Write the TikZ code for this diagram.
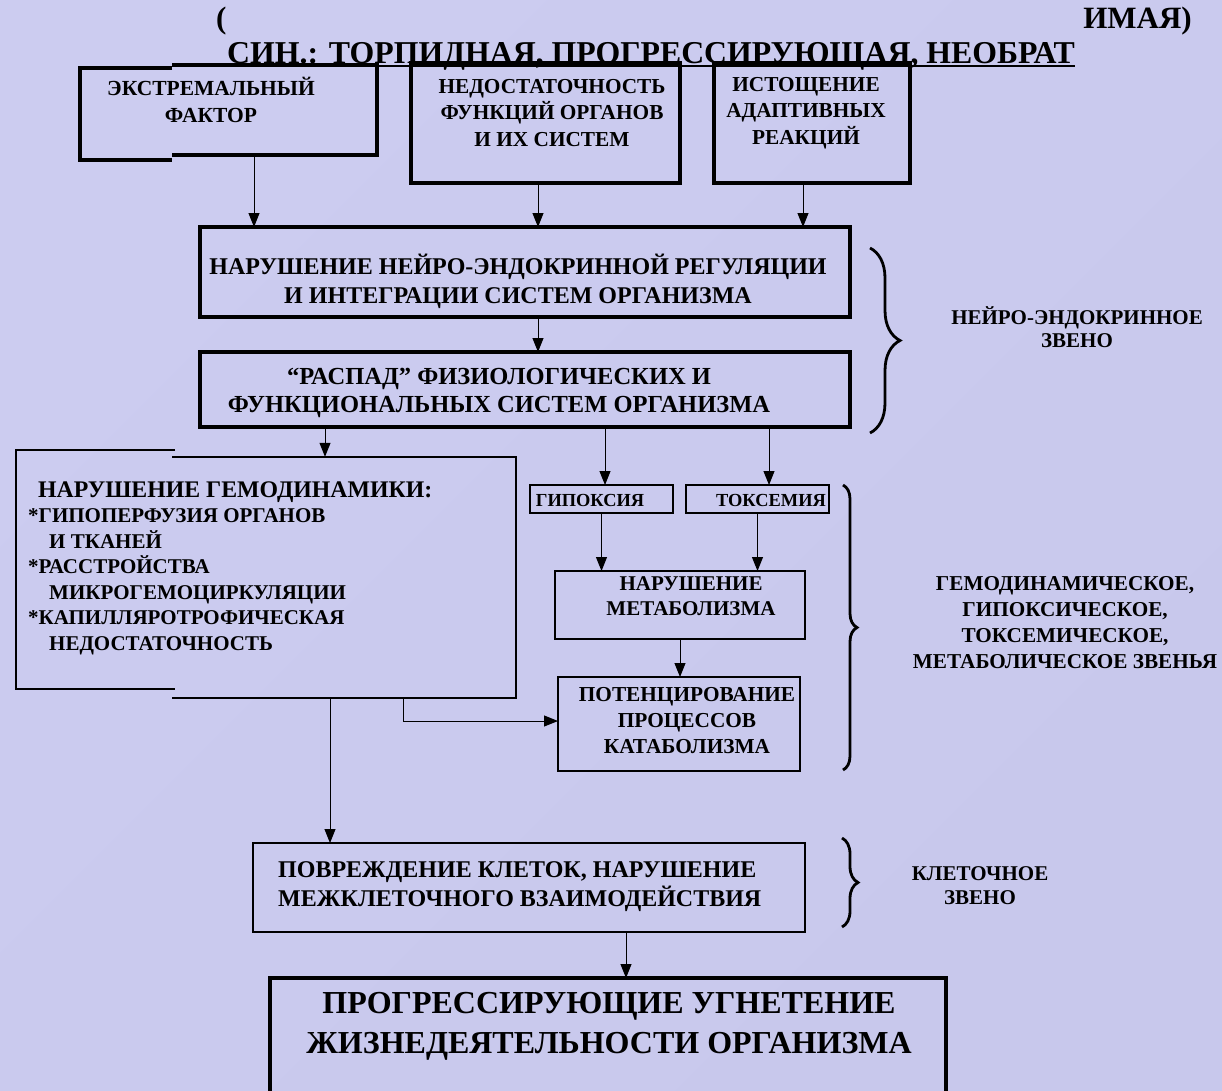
\documentclass[tikz,border=0pt]{standalone}
\usepackage{fontspec}
\setmainfont{Liberation Serif}
\usetikzlibrary{arrows.meta,decorations.pathreplacing,calc,fit}
\definecolor{bgA}{RGB}{204,204,240}
\definecolor{bgB}{RGB}{218,218,252}
\definecolor{bgC}{RGB}{200,200,236}
\begin{document}
\begin{tikzpicture}[x=1pt,y=-1pt,
  box/.style={draw, inner sep=0pt, outer sep=0pt},
  heavybox/.style={box, line width=3.5pt},
  lightbox/.style={box, line width=1.1pt},
  txt/.style={inner sep=0pt, align=center, font=\bfseries},
  fs/.style 2 args={font=\bfseries\fontsize{#1}{#2}\selectfont},
  arr/.style={-{Triangle[width=11pt,length=14pt]}, line width=1pt},
  brc/.style={decorate, decoration={brace, amplitude=#1}, line width=2.8pt},
]
\useasboundingbox (0,0) rectangle (1222,1090);
\shade[top color=bgA, middle color=bgB, bottom color=bgC, shading angle=45] (0,0) rectangle (1222,1090);

% title fragments
\node[txt, fs={31}{36}, anchor=west] (t1) at (216,21) {(};
\node[txt, fs={31}{36}, anchor=east] (t2) at (1192,21) {ИМАЯ)};
\node[txt, fs={31.8}{36}, anchor=base west] (t3) at (227,63) {СИН.: ТОРПИДНАЯ, ПРОГРЕССИРУЮЩАЯ, НЕОБРАТ};
\draw[line width=1.5pt] ($(t3.base west)+(0,3)$) -- ($(t3.base east)+(0,3)$);

% top row
\node[fit={(80,65) (377,157)}, inner sep=0pt] (A) {};
\draw[line width=4pt] (172,65) -- (377,65) -- (377,155) -- (172,155);
\draw[line width=4pt] (172,68) -- (80,68) -- (80,160) -- (172,160);
\node[txt, fs={21.5}{27}] (At) at (211,100) {ЭКСТРЕМАЛЬНЫЙ\\ФАКТОР};

\node[heavybox, fit={(411,63) (680,183)}] (B) {};
\node[txt, fs={21.3}{26.5}] (Bt) at (552,113) {НЕДОСТАТОЧНОСТЬ\\ФУНКЦИЙ ОРГАНОВ\\И ИХ СИСТЕМ};

\node[heavybox, fit={(714,63) (910,183)}] (C) {};
\node[txt, fs={21.3}{26.5}] (Ct) at (806,113) {ИСТОЩЕНИЕ\\АДАПТИВНЫХ\\РЕАКЦИЙ};

% neuro-endocrine
\node[heavybox, fit={(200,227) (850,317)}] (D) {};
\node[txt, fs={24}{29}] (Dt) at (518,281) {НАРУШЕНИЕ НЕЙРО-ЭНДОКРИННОЙ РЕГУЛЯЦИИ\\И ИНТЕГРАЦИИ СИСТЕМ ОРГАНИЗМА};

\node[heavybox, fit={(200,352) (850,427)}] (E) {};
\node[txt, fs={24.5}{28}] (Et) at (499,393) {“РАСПАД” ФИЗИОЛОГИЧЕСКИХ И\\ФУНКЦИОНАЛЬНЫХ СИСТЕМ ОРГАНИЗМА};

\coordinate (b1s) at (870,248);
\coordinate (b1e) at (870,433);
\draw[brc=30pt] (b1s) -- (b1e);
\node[txt, fs={21}{23}] (L1) at (1077,327) {НЕЙРО-ЭНДОКРИННОЕ\\ЗВЕНО};

% hemodynamics
\node[fit={(16,457) (516,698)}, inner sep=0pt] (F) {};
\draw[line width=2pt] (175,450) -- (16,450) -- (16,689) -- (175,689);
\draw[line width=1.3pt] (172,457) -- (516,457) -- (516,698) -- (172,698);
\node[inner sep=0pt, align=left, anchor=west, fs={21}{25.5}] (Ft) at (28,568)
 {{\fontsize{23.8}{25.5}\selectfont\hspace*{10pt}НАРУШЕНИЕ ГЕМОДИНАМИКИ:}\\
  *ГИПОПЕРФУЗИЯ ОРГАНОВ\\
  \hspace*{21pt}И ТКАНЕЙ\\
  *РАССТРОЙСТВА\\
  \hspace*{21pt}МИКРОГЕМОЦИРКУЛЯЦИИ\\
  *КАПИЛЛЯРОТРОФИЧЕСКАЯ\\
  \hspace*{21pt}НЕДОСТАТОЧНОСТЬ};

\node[lightbox, fit={(530,485) (673,513)}] (G) {};
\node[txt, fs={18.4}{20}] (Gt) at (590,500) {ГИПОКСИЯ};
\node[lightbox, fit={(686,485) (829,513)}] (H) {};
\node[txt, fs={18.4}{20}] (Ht) at (771,500) {ТОКСЕМИЯ};

\node[lightbox, fit={(555,571) (805,639)}] (I) {};
\node[txt, fs={21}{25.5}] (It) at (691,596) {НАРУШЕНИЕ\\МЕТАБОЛИЗМА};

\node[lightbox, fit={(558,677) (800,771)}] (J) {};
\node[txt, fs={21.3}{26}] (Jt) at (687,721) {ПОТЕНЦИРОВАНИЕ\\ПРОЦЕССОВ\\КАТАБОЛИЗМА};

\coordinate (b2s) at (843,485);
\coordinate (b2e) at (843,770);
\draw[brc=14pt] (b2s) -- (b2e);
\node[txt, fs={21.2}{26}] (L2) at (1065,623) {ГЕМОДИНАМИЧЕСКОЕ,\\ГИПОКСИЧЕСКОЕ,\\ТОКСЕМИЧЕСКОЕ,\\МЕТАБОЛИЧЕСКОЕ ЗВЕНЬЯ};

% cellular
\node[lightbox, fit={(253,843) (805,932)}] (K) {};
\node[txt, align=left, anchor=west, fs={24}{29}] (Kt) at (278,887) {ПОВРЕЖДЕНИЕ КЛЕТОК, НАРУШЕНИЕ\\МЕЖКЛЕТОЧНОГО ВЗАИМОДЕЙСТВИЯ};

\coordinate (b3s) at (842,838);
\coordinate (b3e) at (842,927);
\draw[brc=16pt] (b3s) -- (b3e);
\node[txt, fs={21}{24}] (L3) at (980,886) {КЛЕТОЧНОЕ\\ЗВЕНО};

% final
\node[heavybox, line width=4pt, fit={(270,978) (946,1120)}] (L) {};
\node[txt, fs={32}{40}] (Lt) at (609,1026) {ПРОГРЕССИРУЮЩИЕ УГНЕТЕНИЕ\\ЖИЗНЕДЕЯТЕЛЬНОСТИ ОРГАНИЗМА};

% connectors
\draw[arr] ([xshift=25.5pt]A.south) -- ([xshift=25.5pt]A.south |- D.north);
\draw[arr] ([xshift=-7.5pt]B.south) -- ([xshift=-7.5pt]B.south |- D.north);
\draw[arr] ([xshift=-9pt]C.south) -- ([xshift=-9pt]C.south |- D.north);
\draw[arr] ([xshift=13pt]D.south) -- ([xshift=13pt]D.south |- E.north);
\draw[arr] ([xshift=-200pt]E.south) -- ([xshift=-200pt]E.south |- F.north);
\draw[arr] ([xshift=80pt]E.south) -- ([xshift=80pt]E.south |- G.north);
\draw[arr] ([xshift=244pt]E.south) -- ([xshift=244pt]E.south |- H.north);
\draw[arr] (G.south) -- (G.south |- I.north);
\draw[arr] (H.south) -- (H.south |- I.north);
\draw[arr] (I.south) -- (I.south |- J.north);
\draw[arr] ([xshift=137pt]F.south) |- ([yshift=3pt]J.west);
\draw[arr] ([xshift=64pt]F.south) -- ([xshift=64pt]F.south |- K.north);
\draw[arr] ([xshift=97pt]K.south) -- ([xshift=97pt]K.south |- L.north);
\end{tikzpicture}
\end{document}
